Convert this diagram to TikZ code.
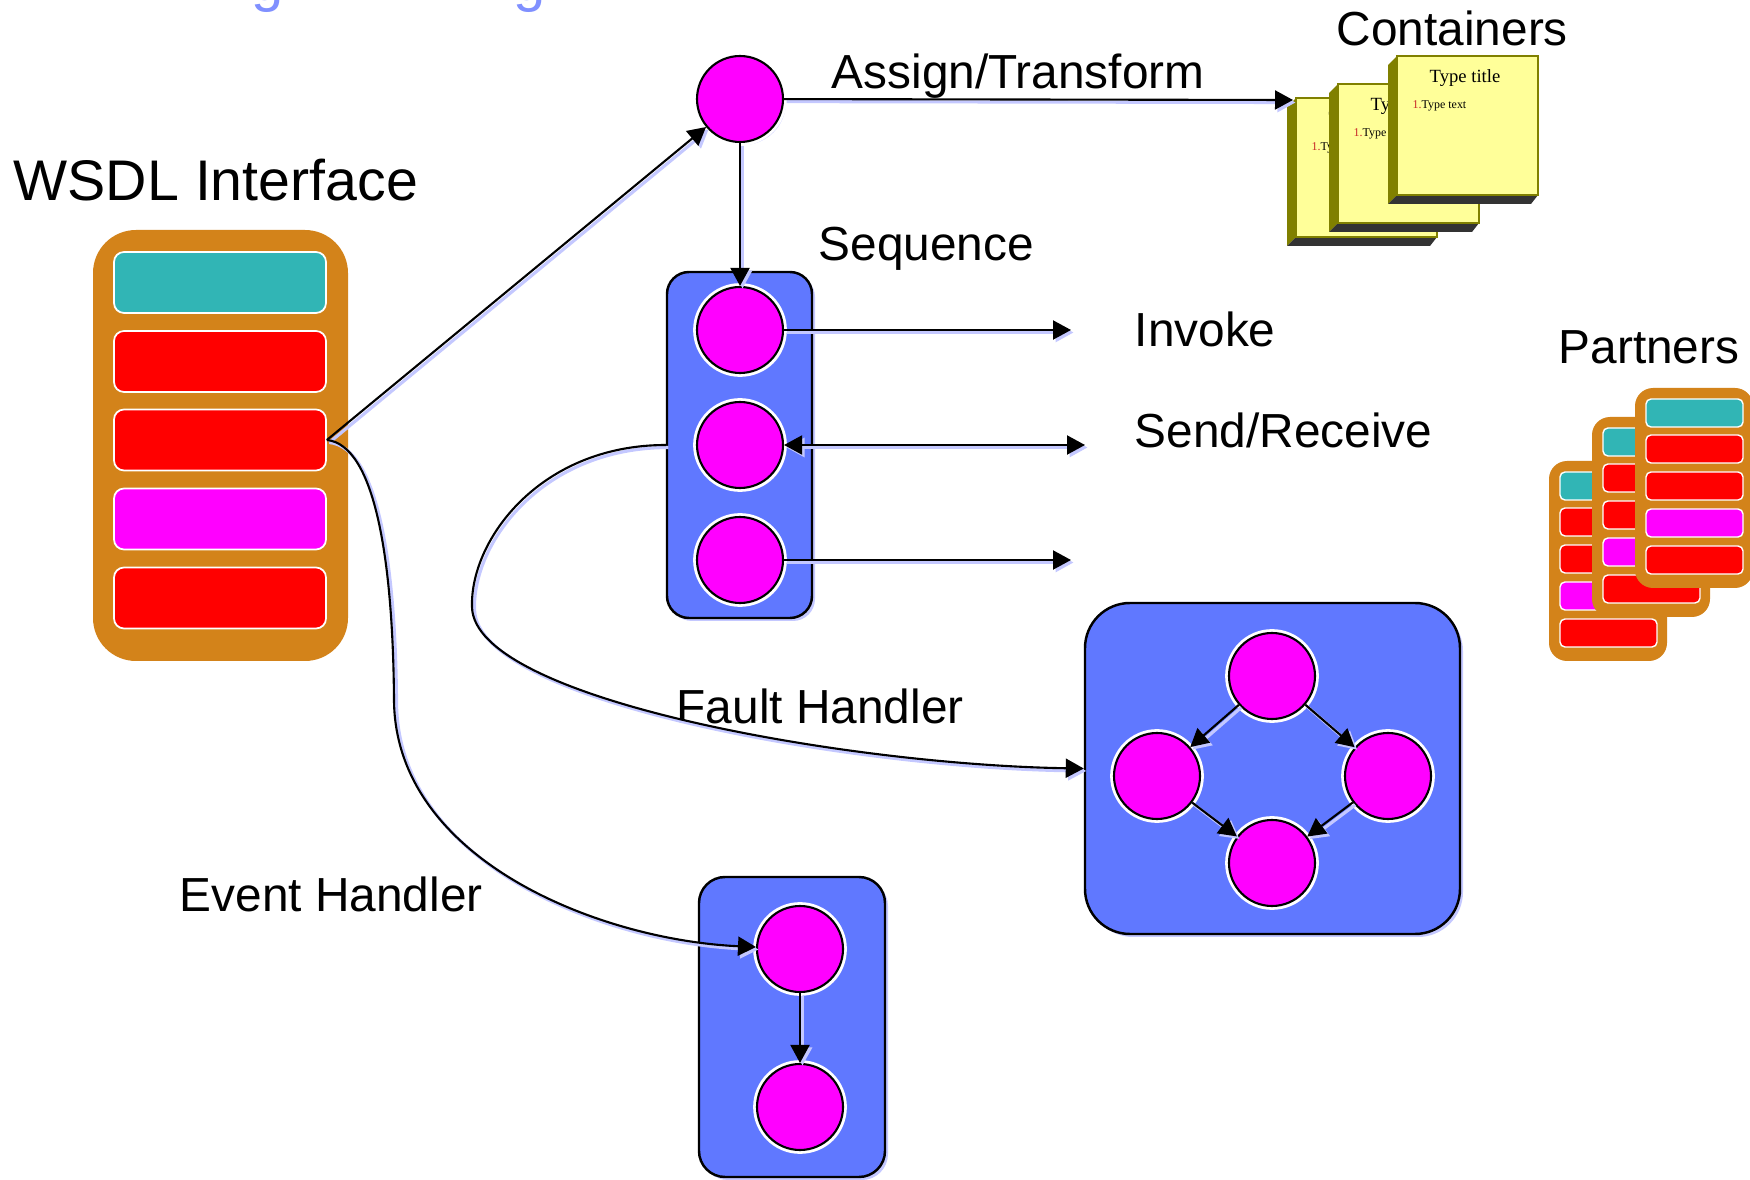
\documentclass[tikz,border=0pt]{standalone}
\usepackage{fontspec}
\setmainfont{Liberation Sans}
\newfontfamily\notefont{Liberation Serif}
\usetikzlibrary{arrows.meta}

\definecolor{ifaceorange}{RGB}{211,131,26}
\definecolor{ifteal}{RGB}{49,181,181}
\definecolor{procmagenta}{RGB}{255,0,255}
\definecolor{groupblue}{RGB}{96,120,255}
\definecolor{shadowblue}{RGB}{196,200,255}
\definecolor{titleblue}{RGB}{128,144,255}
\definecolor{noteyellow}{RGB}{255,255,153}
\definecolor{noteolive}{RGB}{128,128,0}
\definecolor{notedark}{RGB}{51,51,51}
\definecolor{notered}{RGB}{200,40,40}

\tikzset{
  lbl/.style={font=\fontsize{13.6}{16}\selectfont, inner sep=0pt, anchor=base west},
  proc/.style={circle, minimum size=8.6mm, inner sep=0pt, fill=procmagenta, draw=black, line width=0.6pt,
    preaction={fill=shadowblue, transform canvas={shift={(0.3mm,-0.3mm)}}},
    preaction={draw=white, line width=2.2pt}},
  group/.style={rectangle, inner sep=0pt, fill=groupblue, draw=black, line width=0.7pt,
    preaction={fill=shadowblue, transform canvas={shift={(0.3mm,-0.3mm)}}}},
  bar/.style={rectangle, inner sep=0pt, minimum width=21.2mm, minimum height=6.1mm, rounded corners=1mm, draw=white, line width=0.5pt},
  minibar/.style={draw=white, line width=0.4pt, rounded corners=0.5mm},
  conn/.style={line width=0.6pt, -{Triangle[length=1.8mm,width=1.9mm]},
    preaction={draw=shadowblue, line width=0.9pt, transform canvas={shift={(0.25mm,-0.25mm)}}}},
  notetitle/.style={font=\notefont\fontsize{5.3}{6}\selectfont, inner sep=0pt, anchor=base},
  notetext/.style={font=\notefont\fontsize{3.4}{4}\selectfont, inner sep=0pt, anchor=base west}
}

% yellow container sheet, #1 #2 = top left corner, #3 = name
\newcommand{\stickynote}[3]{%
  \begin{scope}[shift={(#1,#2)}]
    \fill[noteolive] (0,9) -- (9,0) -- (9,139) -- (0,148) -- cycle;
    \fill[notedark] (0,148) -- (9,139) -- (150,139) -- (143,148) -- cycle;
    \filldraw[fill=noteyellow, draw=noteolive, line width=0.4pt] (9,0) rectangle (150,139);
    \node[notetitle] (#3title) at (77,27) {Type title};
    \node[notetext] (#3text) at (24,53) {\textcolor{notered}{1.}Type text};
  \end{scope}}

% small partner interface, #1 #2 = top left corner
\newcommand{\partnerbox}[2]{%
  \begin{scope}[shift={(#1,#2)}]
    \fill[ifaceorange, rounded corners=1.8mm] (0,0) rectangle (118,200);
    \filldraw[minibar, fill=ifteal] (11,11) rectangle (108,39);
    \filldraw[minibar, fill=red] (11,47) rectangle (108,75);
    \filldraw[minibar, fill=red] (11,84) rectangle (108,112);
    \filldraw[minibar, fill=procmagenta] (11,121) rectangle (108,149);
    \filldraw[minibar, fill=red] (11,158) rectangle (108,186);
  \end{scope}}

\begin{document}
\begin{tikzpicture}[x=0.1mm, y=-0.1mm]
        \useasboundingbox (0,0) rectangle (1750,1180);

        % cut off title
        \begin{scope}
          \clip (0,0) rectangle (1750,1180);
          \node[font=\fontsize{16.5}{19}\selectfont, text=titleblue, inner sep=0pt, anchor=base] (titleg1) at (268,1) {g};
          \node[font=\fontsize{16.5}{19}\selectfont, text=titleblue, inner sep=0pt, anchor=base] (titleg2) at (530,1) {g};
        \end{scope}

        % WSDL interface
        \node[lbl, font=\fontsize{16.3}{19}\selectfont] (wsdllbl) at (13,201) {WSDL Interface};
        \node[rectangle, fill=ifaceorange, rounded corners=4.3mm, minimum width=25.5mm, minimum height=43.1mm] (wsdl) at (220.5,445.5) {};
        \node[bar, fill=ifteal] (b1) at (220,282.5) {};
        \node[bar, fill=red] (b2) at (220,361.5) {};
        \node[bar, fill=red] (b3) at (220,440) {};
        \node[bar, fill=procmagenta] (b4) at (220,519) {};
        \node[bar, fill=red] (b5) at (220,598) {};

        % containers
        \node[lbl] (contlbl) at (1336,46) {Containers};
        \stickynote{1287}{98}{noteA}
        \stickynote{1329}{84}{noteB}
        \stickynote{1388}{56}{noteC}
        \coordinate (contin) at (1293,100);

        % partners
        \node[lbl] (partlbl) at (1558,364) {Partners};
        \partnerbox{1549}{461}
        \partnerbox{1592}{417}
        \partnerbox{1635}{388}

        % assign
        \node[proc] (assign) at (740,99) {};
        \node[lbl] (assignlbl) at (831,89) {Assign/Transform};

        % sequence
        \node[group, rounded corners=2.2mm, minimum width=14.5mm, minimum height=34.6mm] (seq) at (739.5,445) {};
        \node[lbl] (seqlbl) at (818,261) {Sequence};
        \node[proc] (s1) at (740,330) {};
        \node[proc] (s2) at (740,445) {};
        \node[proc] (s3) at (740,560) {};
        \coordinate (invokeend) at (1071,330);
        \coordinate (sendend) at (1085,445);
        \coordinate (thirdend) at (1071,560);
        \node[lbl] (invokelbl) at (1134,347) {Invoke};
        \node[lbl] (sendlbl) at (1134,448) {Send/Receive};

        % fault handler
        \node[group, rounded corners=4.5mm, minimum width=37.5mm, minimum height=33.1mm] (fault) at (1272.5,768.5) {};
        \node[proc] (f1) at (1272,676) {};
        \node[proc] (f2) at (1157,776) {};
        \node[proc] (f3) at (1388,776) {};
        \node[proc] (f4) at (1272,863) {};
        \node[lbl] (faultlbl) at (676,724) {Fault Handler};

        % event handler
        \node[group, rounded corners=2.6mm, minimum width=18.6mm, minimum height=30mm] (event) at (792,1027) {};
        \node[proc] (e1) at (800,949) {};
        \node[proc] (e2) at (800,1107) {};
        \node[lbl] (eventlbl) at (179,911) {Event Handler};

        % connectors
        \draw[conn] (b3.east) -- (assign);
        \draw[conn] (assign) -- (contin);
        \draw[conn] (assign) -- (s1);
        \draw[conn] (s1) -- (invokeend);
        \draw[conn, {Triangle[length=1.8mm,width=1.9mm]}-{Triangle[length=1.8mm,width=1.9mm]}] (s2) -- (sendend);
        \draw[conn] (s3) -- (thirdend);
        \draw[conn] (seq.west) .. controls (540,445) and (470,540) .. (472,607)
                   .. controls (474,700) and (850,765) .. (fault.west);
        \draw[conn] (b3.east) .. controls (375,445) and (393,560) .. (394,700)
                   .. controls (395,860) and (600,940) .. (e1);
        \draw[conn] (f1) -- (f2);
        \draw[conn] (f1) -- (f3);
        \draw[conn] (f2) -- (f4);
        \draw[conn] (f3) -- (f4);
        \draw[conn] (e1) -- (e2);

\end{tikzpicture}
\end{document}
